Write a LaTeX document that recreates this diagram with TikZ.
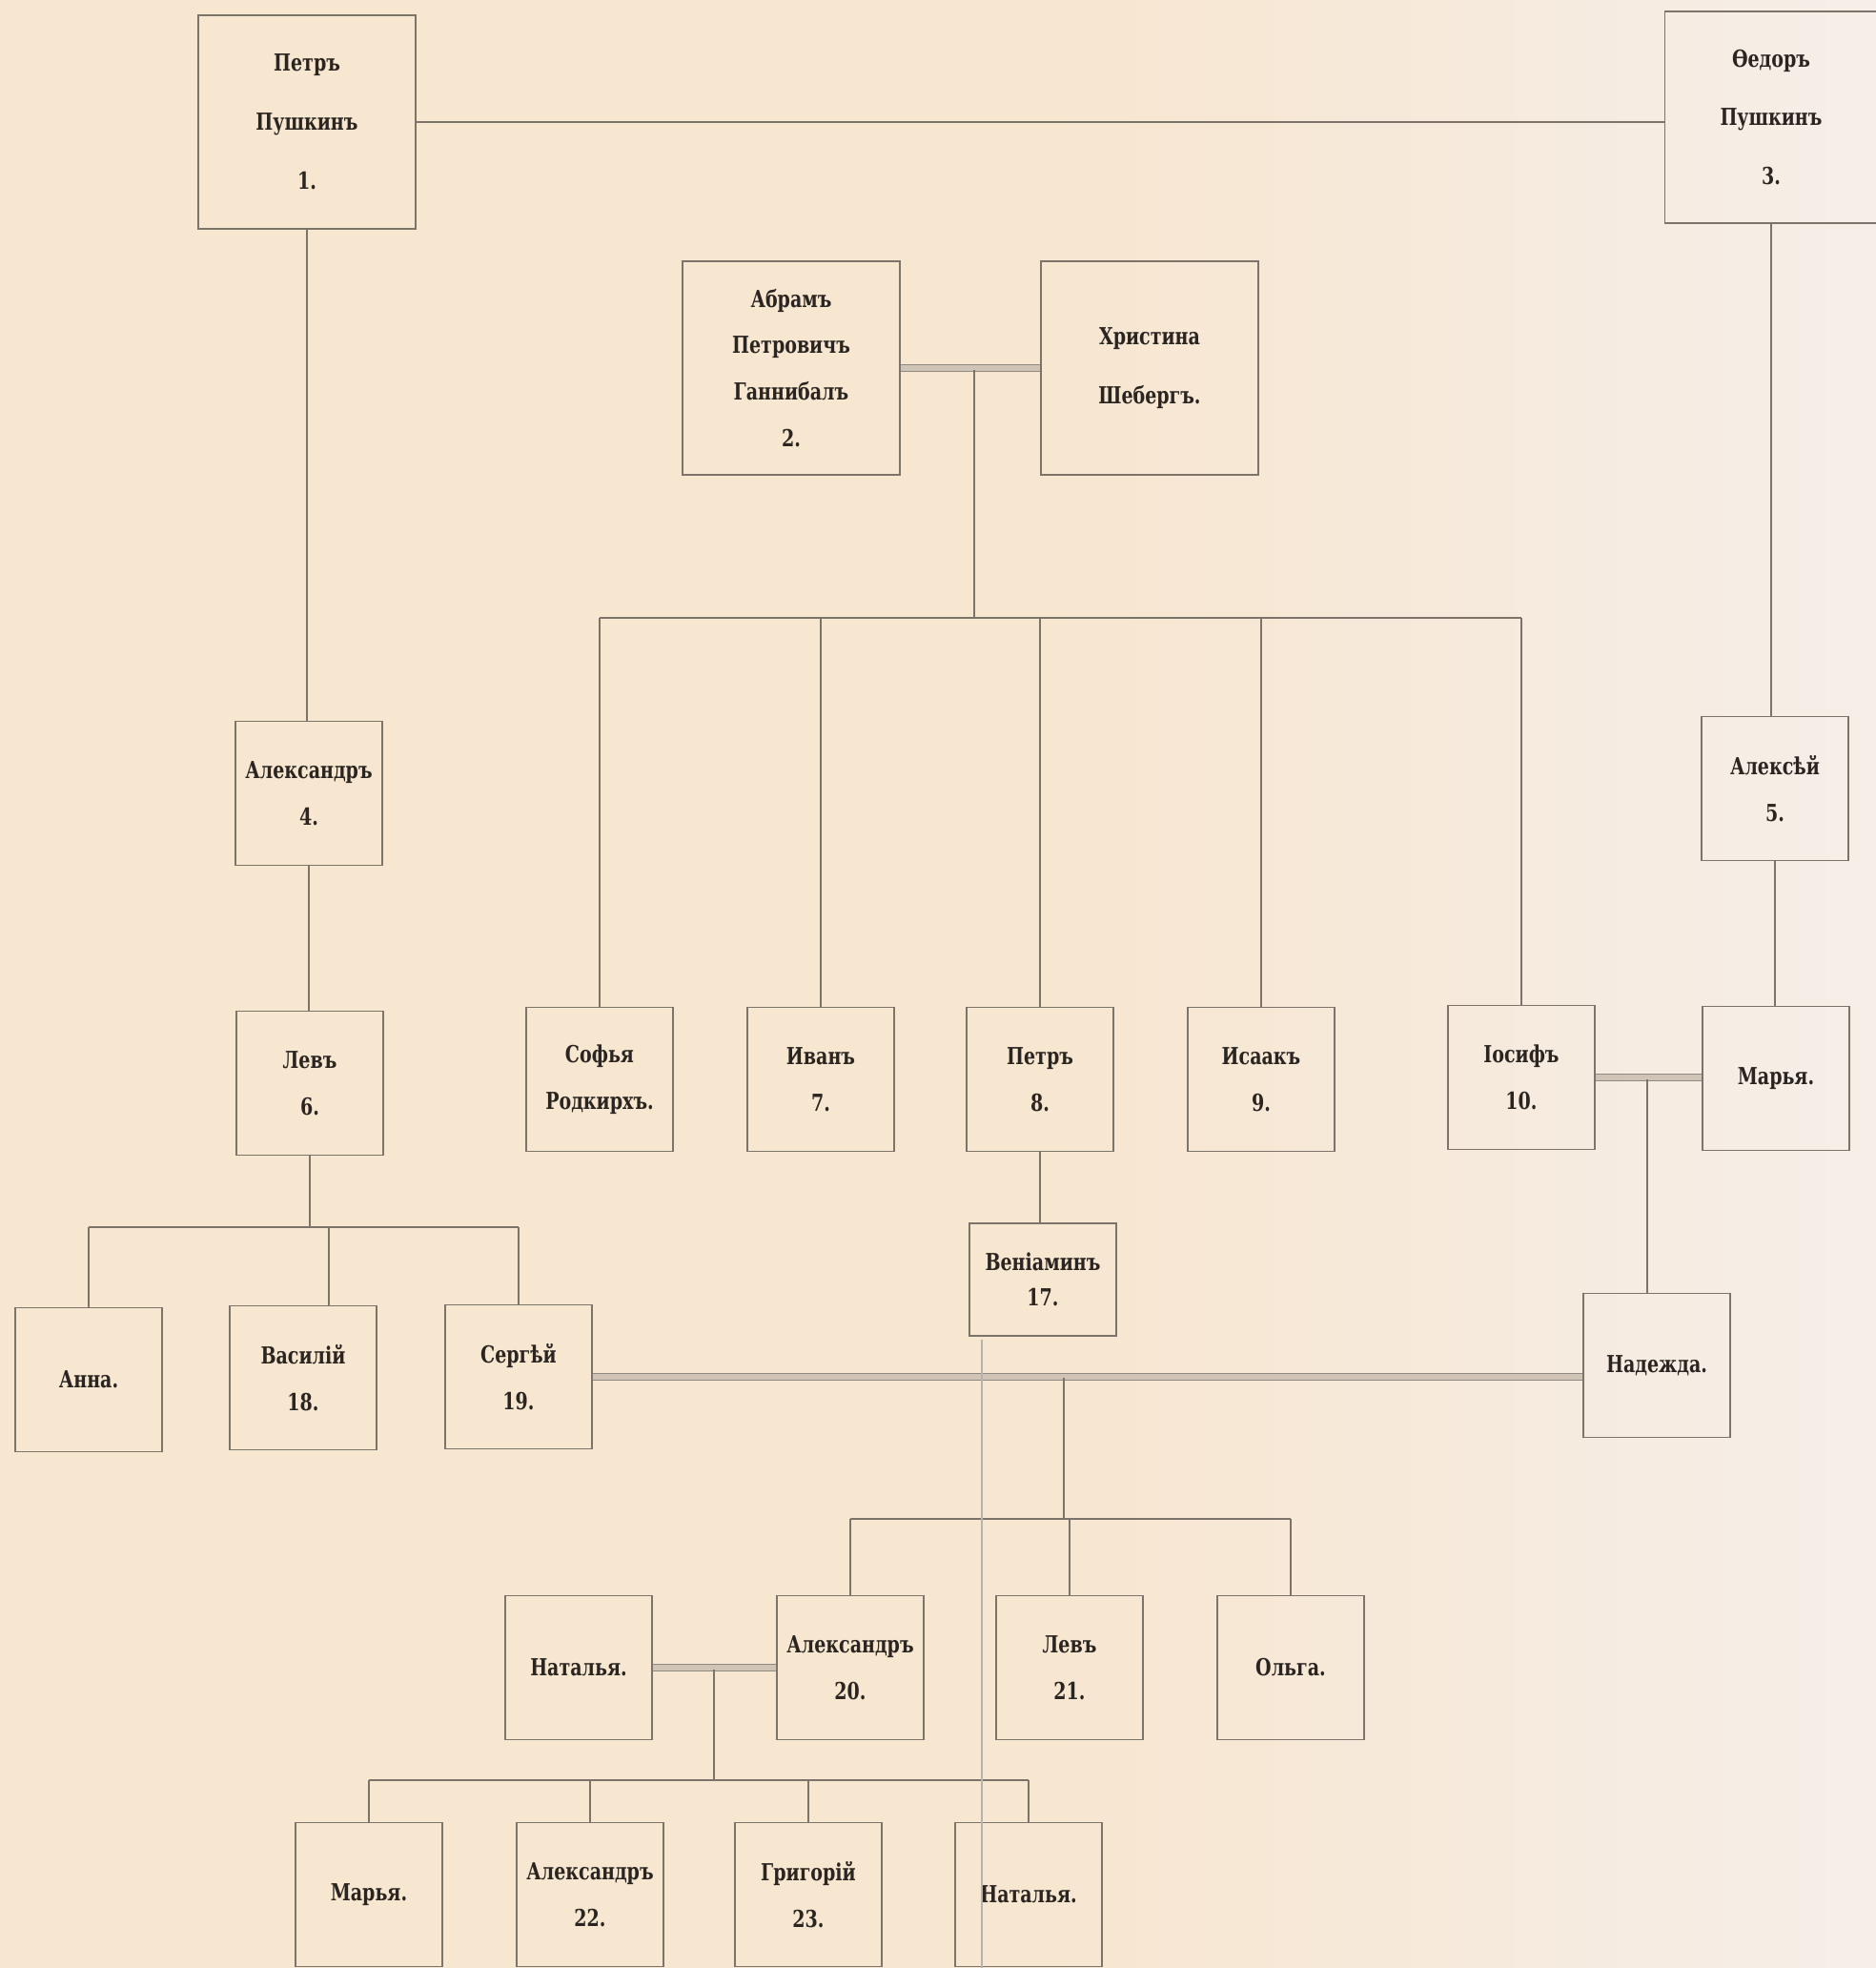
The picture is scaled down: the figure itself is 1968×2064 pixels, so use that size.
\documentclass[tikz,border=0pt]{standalone}
\usepackage{fontspec}
\newfontfamily\oldfont{DejaVu Serif Condensed Bold}[FakeStretch=0.86]

\definecolor{paper}{HTML}{F7E6D0}
\definecolor{paperlight}{HTML}{F6EEE8}
\definecolor{ink}{HTML}{2B2521}
\definecolor{rule}{HTML}{7C746B}
\definecolor{band}{HTML}{CFC4B6}

\begin{document}
\begin{tikzpicture}[
                    x=0.1mm, y=-0.1mm,
                    person/.style={draw=rule, line width=0.55pt, text=ink, align=center,
                        minimum width=15.4mm, minimum height=15.1mm, inner sep=0pt,
                        font=\oldfont\fontsize{7}{13.9}\selectfont},
                    elder/.style={person, minimum width=22.8mm, minimum height=22.4mm,
                        font=\oldfont\fontsize{7}{17.6}\selectfont},
                    descent/.style={draw=rule, line width=0.45pt},
                    marriage/.style={draw=rule!85, line width=0.35pt, double=band,
                        double distance=1.6pt}
                ]
                \useasboundingbox (0,0) rectangle (1968,2064);
                \fill[paper] (0,0) rectangle (1968,2064);
                \shade[left color=paper, right color=paperlight] (1100,0) rectangle (1968,2064);

                % first generation
                \node[elder] (p1) at (322,128) {Петръ\\Пушкинъ\\1.};
                \node[elder, minimum width=22.3mm, minimum height=22.2mm] (f3) at (1858,123) {Ѳедоръ\\Пушкинъ\\3.};
                \node[elder, font=\oldfont\fontsize{7}{13.9}\selectfont] (a2) at (830,386) {Абрамъ\\Петровичъ\\Ганнибалъ\\2.};
                \node[elder] (ch) at (1206,386) {Христина\\Шебергъ.};

                \node[person] (a4) at (324,832) {Александръ\\4.};
                \node[person] (a5) at (1862,827) {Алексѣй\\5.};

                % Gannibal children
                \node[person] (l6) at (325,1136) {Левъ\\6.};
                \node[person] (so) at (629,1132) {Софья\\Родкирхъ.};
                \node[person] (i7) at (861,1132) {Иванъ\\7.};
                \node[person] (p8) at (1091,1132) {Петръ\\8.};
                \node[person] (i9) at (1323,1132) {Исаакъ\\9.};
                \node[person] (j10) at (1596,1130) {Іосифъ\\10.};
                \node[person] (m5) at (1863,1131) {Марья.};
                \node[person, minimum height=11.8mm, font=\oldfont\fontsize{7}{10.5}\selectfont] (v17) at (1094,1342) {Веніаминъ\\17.};

                \node[person] (an) at (93,1447) {Анна.};
                \node[person] (v18) at (318,1445) {Василій\\18.};
                \node[person] (s19) at (544,1444) {Сергѣй\\19.};
                \node[person] (nd) at (1738,1432) {Надежда.};

                % the poet and his brothers
                \node[person] (nt) at (607,1749) {Наталья.};
                \node[person] (a20) at (892,1749) {Александръ\\20.};
                \node[person] (l21) at (1122,1749) {Левъ\\21.};
                \node[person] (ol) at (1354,1749) {Ольга.};

                \node[person] (mr) at (387,1987) {Марья.};
                \node[person] (a22) at (619,1987) {Александръ\\22.};
                \node[person] (g23) at (848,1987) {Григорій\\23.};
                \node[person] (nt2) at (1079,1987) {Наталья.};

                % Pushkin lines
                \draw[descent] (p1.east) -- (p1.east -| f3.west);
                \draw[descent] (p1.south) -- (p1.south |- a4.north);
                \draw[descent] (a4.south) -- (a4.south |- l6.north);
                \draw[descent] (f3.south) -- (f3.south |- a5.north);
                \draw[descent] (a5.south) -- (a5.south |- m5.north);
                \draw[descent] (p8.south) -- (p8.south |- v17.north);

                % Gannibal and Sheberg
                \draw[marriage] (a2.east) -- (ch.west);
                \coordinate (gan) at (1022,388);
                \coordinate (ganbar) at (1022,648);
                \draw[descent] (gan) -- (ganbar);
                \draw[descent] (so.north |- ganbar) -- (j10.north |- ganbar);
                \foreach \k in {so,i7,p8,i9,j10}
                    \draw[descent] (\k.north |- ganbar) -- (\k.north);

                % Iosif and Marya
                \draw[marriage] (j10.east) -- (j10.east -| m5.west);
                \coordinate (osip) at (1728,1132);
                \draw[descent] (osip) -- (osip |- nd.north);

                % Lev's children
                \coordinate (levbar) at (325,1287);
                \coordinate (vas) at (345,1287);
                \draw[descent] (l6.south) -- (levbar);
                \draw[descent] (an.north |- levbar) -- (s19.north |- levbar);
                \draw[descent] (an.north |- levbar) -- (an.north);
                \draw[descent] (vas) -- (vas |- v18.north);
                \draw[descent] (s19.north |- levbar) -- (s19.north);

                % Sergei and Nadezhda
                \draw[marriage] (s19.east) -- (s19.east -| nd.west);
                \coordinate (serg) at (1116,1445);
                \coordinate (sergbar) at (1116,1593);
                \draw[descent] (serg) -- (sergbar);
                \draw[descent] (a20.north |- sergbar) -- (ol.north |- sergbar);
                \foreach \k in {a20,l21,ol}
                    \draw[descent] (\k.north |- sergbar) -- (\k.north);

                % Alexander and Natalya
                \draw[marriage] (nt.east) -- (a20.west);
                \coordinate (alex) at (749,1751);
                \coordinate (alexbar) at (749,1867);
                \draw[descent] (alex) -- (alexbar);
                \draw[descent] (mr.north |- alexbar) -- (nt2.north |- alexbar);
                \foreach \k in {mr,a22,g23,nt2}
                    \draw[descent] (\k.north |- alexbar) -- (\k.north);

                % fold of the sheet
                \draw[rule!55, line width=0.4pt] (1030,1405) -- (1030,2064);
            \end{tikzpicture}
\end{document}
